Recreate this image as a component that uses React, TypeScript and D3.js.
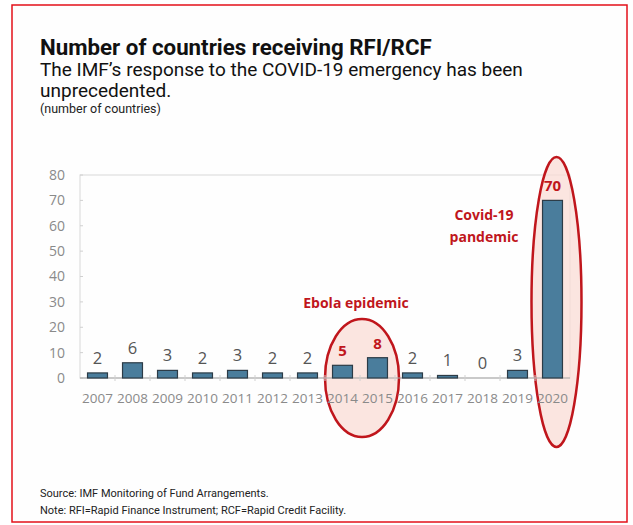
import React from "react";
import * as d3 from "d3";

const years = ["2007","2008","2009","2010","2011","2012","2013","2014","2015","2016","2017","2018","2019","2020"];
const counts = [2, 6, 3, 2, 3, 2, 2, 5, 8, 2, 1, 0, 3, 70];
const highlighted = ["2014", "2015", "2020"];
const yTicks = [0, 10, 20, 30, 40, 50, 60, 70, 80];

const W = 633, H = 525;
const plot = { left: 80, right: 570, top: 175, bottom: 378 };
const RED = "#c0161c";

export default function App() {
  const x = d3.scaleBand<string>().domain(years).range([plot.left, plot.right]).paddingInner(0.43).paddingOuter(0.215);
  const band = d3.scaleBand<string>().domain(years).range([plot.left, plot.right]);
  const y = d3.scaleLinear().domain([0, 80]).range([plot.bottom, plot.top]);
  const cx = (yr: string) => (band(yr) as number) + band.bandwidth() / 2;

  const ebolaCx = (cx("2014") + cx("2015")) / 2;
  const covidCx = cx("2020") + 4;

  return (
    <svg width={W} height={H} style={{ position: "absolute", left: 0, top: 0, background: "#fff" }}>
      <rect x={12} y={5} width={615} height={517} fill="#fefefe" stroke="#e3101a" strokeWidth={1.5} />
      <g fontFamily="Roboto, 'Liberation Sans', sans-serif" fill="#111">
        <text x={40} y={55} fontSize={22.3} fontWeight={700}>Number of countries receiving RFI/RCF</text>
        <text x={40} y={76} fontSize={19}>The IMF’s response to the COVID-19 emergency has been</text>
        <text x={40} y={97} fontSize={19}>unprecedented.</text>
        <text x={40} y={113} fontSize={12.5} fill="#222">(number of countries)</text>
        <text x={40} y={497} fontSize={11} fill="#222">Source: IMF Monitoring of Fund Arrangements.</text>
        <text x={40} y={514} fontSize={11} fill="#222">Note: RFI=Rapid Finance Instrument; RCF=Rapid Credit Facility.</text>
      </g>

      {/* plot frame */}
      <rect x={plot.left} y={plot.top} width={plot.right - plot.left} height={plot.bottom - plot.top} fill="none" stroke="#d8d8d8" strokeWidth={1} />

      {/* ellipses */}
      <ellipse cx={ebolaCx + 2} cy={y(0)} rx={37} ry={59} fill="#f9dcd6" fillOpacity={0.75} stroke={RED} strokeWidth={2.5} />
      <ellipse cx={covidCx} cy={302} rx={25} ry={145} fill="#f9dcd6" fillOpacity={0.75} stroke={RED} strokeWidth={2.5} />

      {/* y axis */}
      <g fontFamily="'Open Sans', sans-serif" fontSize={14} fill="#8a8a8a">
        {yTicks.map((t) => (
          <g key={t}>
            <line x1={plot.left} x2={plot.left + 3} y1={y(t)} y2={y(t)} stroke="#d0d0d0" />
            <text x={65} y={y(t)} dy="0.35em" textAnchor="end">{t}</text>
          </g>
        ))}
      </g>

      {/* baseline and category ticks */}
      <line x1={plot.left} x2={plot.right} y1={y(0)} y2={y(0)} stroke="#a8a8a8" strokeWidth={1.2} />
      {years.slice(1).map((yr) => (
        <line key={yr} x1={band(yr) as number} x2={band(yr) as number} y1={y(0) - 3} y2={y(0) + 3} stroke="#d0d0d0" />
      ))}

      {/* bars */}
      {years.map((yr, i) => (
        <rect key={yr} x={x(yr) as number} y={y(counts[i])} width={x.bandwidth()} height={y(0) - y(counts[i])}
          fill="#4a7d9c" stroke="#2c3b46" strokeWidth={1.2} />
      ))}

      {/* value labels */}
      {years.map((yr, i) => {
        const hl = highlighted.includes(yr);
        return (
          <text key={yr} x={cx(yr)} y={y(counts[i]) - 9} textAnchor="middle"
            fontFamily="'Open Sans', sans-serif"
            fontSize={hl ? 15 : 16.5} fontWeight={hl ? 700 : 400} fill={hl ? RED : "#555"}>
            {counts[i]}
          </text>
        );
      })}

      {/* x labels */}
      <g fontFamily="'Open Sans', sans-serif" fontSize={13.5} fill="#8a8a8a">
        {years.map((yr) => (
          <text key={yr} x={cx(yr)} y={403} textAnchor="middle">{yr}</text>
        ))}
      </g>

      {/* annotations */}
      <g fontFamily="'Open Sans', sans-serif" fontWeight={700} fontSize={14} fill={RED} textAnchor="middle">
        <text x={356} y={308}>Ebola epidemic</text>
        <text x={484} y={220}>Covid-19</text>
        <text x={484} y={242}>pandemic</text>
      </g>
    </svg>
  );
}
